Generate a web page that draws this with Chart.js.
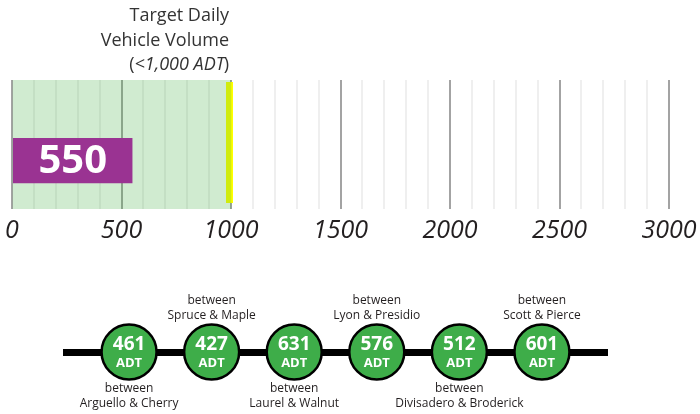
<!DOCTYPE html>
<html>
<head>
<meta charset="utf-8">
<script src="https://cdn.jsdelivr.net/npm/chart.js@4.4.0/dist/chart.umd.min.js"></script>
<style>
    body { margin: 0; background: #fff; }
    #wrap { position: relative; width: 700px; height: 414px; overflow: hidden; }
    #volChart { position: absolute; left: 0; top: 0; }
    #segChart { position: absolute; left: 0; top: 253px; }
</style>
</head>
<body>
<div id="wrap">
    <canvas id="volChart" width="700" height="253"></canvas>
    <canvas id="segChart" width="700" height="161"></canvas>
</div>
<script>
// top gauge
const axisMax = 3000;
const axisStep = 100;
const labelStep = 500;
const targetVolume = 1000;
const currentVolume = 550;
const targetTitle = ['Target Daily', 'Vehicle Volume'];
const targetNote = '<1,000 ADT';

// street segments along the corridor
const segmentCounts = [461, 427, 631, 576, 512, 601];
const segmentStreets = ['Arguello & Cherry', 'Spruce & Maple', 'Laurel & Walnut',
    'Lyon & Presidio', 'Divisadero & Broderick', 'Scott & Pierce'];

const FONT = "'Open Sans', 'Noto Sans', sans-serif";
const TEXT = '#231f20';

const targetPlugin = {
    id: 'targetMark',
    beforeDatasetsDraw(chart) {
        const {ctx, chartArea, scales} = chart;
        const x = scales.x.getPixelForValue(targetVolume);
        ctx.save();
        ctx.fillStyle = '#ffff00';
        ctx.fillRect(x - 5, chartArea.top + 2, 7, chartArea.bottom - chartArea.top - 8);

        // label above the target line
        const xr = x - 2;
        ctx.fillStyle = '#333';
        ctx.textAlign = 'right';
        ctx.textBaseline = 'middle';
        ctx.font = '18px ' + FONT;
        ctx.fillText(targetTitle[0], xr, 16);
        ctx.fillText(targetTitle[1], xr, 41);
        const w1 = ctx.measureText(')').width;
        ctx.fillText(')', xr, 65);
        ctx.font = 'italic 18px ' + FONT;
        const w2 = ctx.measureText(targetNote).width;
        ctx.fillText(targetNote, xr - w1 + 1, 65);
        ctx.font = '18px ' + FONT;
        ctx.fillText('(', xr - w1 - w2 + 1, 65);
        ctx.restore();
    },
    afterDatasetsDraw(chart) {
        const ctx = chart.ctx;
        const bar = chart.getDatasetMeta(2).data[0];
        ctx.save();
        ctx.fillStyle = '#fff';
        ctx.font = 'bold 40px ' + FONT;
        ctx.textAlign = 'center';
        ctx.textBaseline = 'middle';
        ctx.fillText(String(currentVolume), (bar.x + bar.base) / 2, bar.y + 1);
        ctx.restore();
    }
};

new Chart(document.getElementById('volChart'), {
    type: 'bar',
    data: {
        labels: ['ADT'],
        datasets: [{
            data: [targetVolume],
            backgroundColor: 'rgba(60, 170, 60, 0.24)',
            grouped: false,
            barPercentage: 1,
            categoryPercentage: 1,
            order: 1
        }, {
            data: [null],
            order: -1
        }, {
            data: [currentVolume],
            backgroundColor: '#9a3392',
            barPercentage: 1.4,
            categoryPercentage: 0.5,
            order: 0
        }]
    },
    options: {
        indexAxis: 'y',
        responsive: false,
        animation: false,
        devicePixelRatio: 1,
        layout: {
            padding: {left: 12, right: 31, top: 80, bottom: 0}
        },
        plugins: {
            legend: {display: false},
            tooltip: {enabled: false}
        },
        scales: {
            x: {
                min: 0,
                max: axisMax,
                border: {display: false},
                grid: {
                    drawTicks: false,
                    lineWidth: 2,
                    color: (c) => c.tick.value % labelStep === 0 ? '#a3a3a3' : '#efefef'
                },
                ticks: {
                    stepSize: axisStep,
                    autoSkip: false,
                    maxRotation: 0,
                    padding: 7,
                    color: TEXT,
                    font: {family: FONT, size: 25, style: 'italic'},
                    callback: (v) => v % labelStep === 0 ? String(v) : ''
                },
                afterFit(scale) {
                    // let the end labels hang over the edges like the original
                    scale.paddingLeft = 0;
                    scale.paddingRight = 0;
                }
            },
            y: {display: false}
        }
    },
    plugins: [targetPlugin]
});

const segmentLabels = {
    id: 'segmentLabels',
    afterDatasetsDraw(chart) {
        const ctx = chart.ctx;
        const pts = chart.getDatasetMeta(0).data;
        ctx.save();
        ctx.textAlign = 'center';
        ctx.textBaseline = 'middle';
        pts.forEach((p, i) => {
            ctx.fillStyle = '#fff';
            ctx.font = 'bold 19px ' + FONT;
            ctx.fillText(String(segmentCounts[i]), p.x, p.y - 7);
            ctx.font = 'bold 13px ' + FONT;
            ctx.fillText('ADT', p.x, p.y + 11);
            ctx.fillStyle = TEXT;
            ctx.font = '12px ' + FONT;
            const dy = i % 2 === 0 ? 37 : -51;
            ctx.fillText('between', p.x, p.y + dy);
            ctx.fillText(segmentStreets[i], p.x, p.y + dy + 15);
        });
        ctx.restore();
    }
};

new Chart(document.getElementById('segChart'), {
    type: 'scatter',
    data: {
        datasets: [{
            data: segmentCounts.map((v, i) => ({x: i, y: 0})),
            pointRadius: 27.5,
            pointHoverRadius: 27.5,
            pointBackgroundColor: '#3ead49',
            pointBorderColor: '#000',
            pointBorderWidth: 2.5,
            clip: false
        }]
    },
    options: {
        responsive: false,
        animation: false,
        devicePixelRatio: 1,
        layout: {
            padding: {left: 63, right: 92, top: 69, bottom: 32}
        },
        plugins: {
            legend: {display: false},
            tooltip: {enabled: false}
        },
        scales: {
            x: {type: 'linear', min: -0.8, max: segmentCounts.length - 0.2, display: false},
            y: {
                min: -1,
                max: 1,
                border: {display: false},
                ticks: {display: false, stepSize: 1},
                grid: {
                    drawTicks: false,
                    lineWidth: 7,
                    color: (c) => c.tick.value === 0 ? '#000' : 'rgba(0,0,0,0)'
                }
            }
        }
    },
    plugins: [segmentLabels]
});
</script>
</body>
</html>
